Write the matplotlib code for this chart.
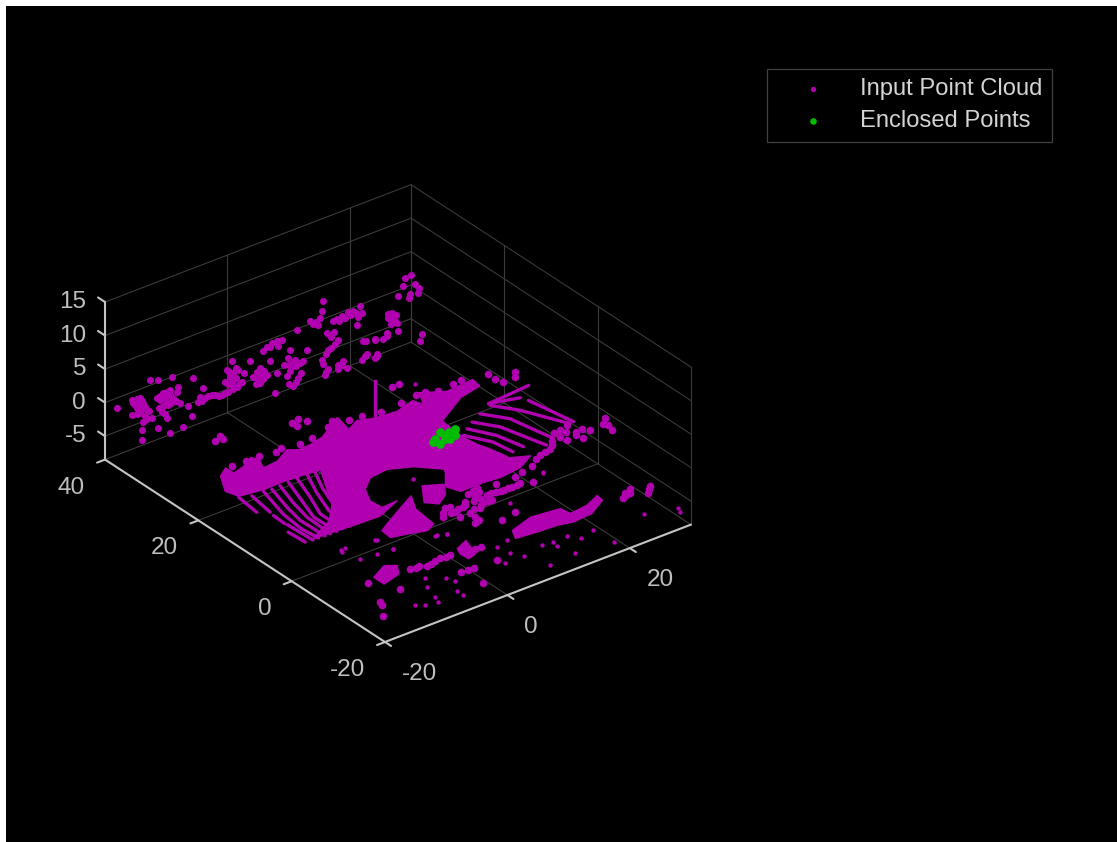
"""Lidar point cloud with the points enclosed by a search box (dark theme)."""

import matplotlib
matplotlib.use("Agg")
import matplotlib.pyplot as plt
from matplotlib.patches import Rectangle
from mpl_toolkits.mplot3d import proj3d
from mpl_toolkits.mplot3d.art3d import Poly3DCollection

W, H = 1117, 842
MAGENTA = "#B000B0"
GREEN = "#00BC00"

X_LIM = (-20, 30)
Y_LIM = (-20, 40)
Z_LIM = (-8.5, 15)
X_TICKS = [-20, 0, 20]
Y_TICKS = [-20, 0, 20, 40]
Z_TICKS = [-5, 0, 5, 10, 15]
GROUND_Z = -2.0

# solid road surface around the sensor, outline runs round into the ego-vehicle hole
ROAD_X = [-17.6, -15.8, -15.7, -13.7, -11.5, -11.0, -11.9, -9.4, -6.6, -5.4, -3.4, -1.0, 3.7, 3.0,
          5.2, 7.3, 10.8, 14.1, 14.6, 16.0, 19.1, 23.6, 23.3, 19.5, 13.9, 13.5, 14.1, 14.8, 17.5,
          14.7, 11.0, 8.5, 4.7, 3.9, 6.1, 6.5, 3.8, 0.6, -2.4, -4.8, -6.1, -5.9, -3.3, -7.4, -11.1,
          -14.7, -18.1, -13.5, -10.6, -8.1, -6.3, -9.4, -12.5, -15.3, -18.9, -19.5]
ROAD_Y = [18.5, 19.8, 18.1, 18.7, 20.0, 18.8, 16.8, 17.1, 18.7, 17.8, 17.9, 18.5, 21.4, 18.0,
          19.2, 18.3, 17.9, 18.9, 17.2, 20.0, 18.1, 18.5, 16.6, 15.7, 12.3, 7.2, 2.9, -0.5, -1.9,
          -3.5, -4.0, -3.7, -3.7, -1.5, 1.4, 2.2, 5.1, 6.7, 6.3, 4.3, 1.5, -0.8, -0.6, -2.4, -2.3,
          -2.0, -1.8, 0.6, 3.8, 8.5, 11.9, 12.2, 12.4, 12.3, 12.9, 15.0]

# dense patches: below the hole, right of the hole, and the three big kerb clumps
PATCHES_X = [
    [-8.0, -4.0, -1.1, -2.7, -3.2, -4.9, -7.5, -9.8, -9.6],
    [1.6, 4.1, 2.7, 0.5, -0.8],
    [3.85, 7.84, 12.24, 12.5, 15.5, 18.1, 17.9, 14.7, 11.5, 9.3, 6.2, 2.9],
    [-17.8, -14.9, -13.5, -14.7, -17.8],
    [-4.7, -2.5, -3.6, -5.1, -5.2],
]
PATCHES_Y = [
    [-4.6, -2.3, -0.7, -3.8, -8.3, -9.2, -8.3, -7.7, -5.6],
    [0.5, -0.9, -3.1, -4.6, -3.1],
    [-15.9, -14.6, -15.2, -17.0, -16.6, -15.4, -16.8, -18.7, -19.0, -18.4, -18.2, -17.8],
    [-14.6, -13.0, -14.0, -15.9, -16.8],
    [-15.3, -14.3, -17.8, -18.3, -16.6],
]

# ring segments that still show as separate scan lines, one (x, y) list per segment
RINGS_X = [
    [-19.1, -19.6], [-17.5, -18.2], [-15.6, -17.2, -17.6, -17.3], [-14.4, -15.7, -16.4, -16.3],
    [-13.0, -14.3, -15.2, -15.4], [-11.6, -13.1, -14.5, -14.4], [-10.0, -11.7, -13.3, -13.4],
    [-8.2, -10.3, -11.9, -12.3], [-6.9, -9.1, -10.4, -11.2],
    [-19.5, -19.3], [-18.4, -18.5], [-18.4, -18.2],
    [21.3, 23.6, 26.6], [18.9, 21.2, 22.6], [16.8, 18.9, 20.8], [15.2, 17.2, 18.2],
    [13.8, 15.8, 16.3], [12.8, 14.1, 14.8], [26.0, 27.3], [21.4, 25.2, 28.4], [21.4, 25.6],
]
RINGS_Y = [
    [12.5, 8.0], [11.8, 7.0], [11.8, 5.4, 1.0, -2.2], [11.6, 6.6, 2.9, -2.3],
    [11.7, 7.2, 3.0, -2.3], [11.7, 6.9, 2.5, -2.3], [12.1, 6.9, 2.7, -2.2],
    [12.4, 7.4, 2.7, -2.2], [12.5, 7.6, 3.7, -2.1],
    [1.4, -2.0], [6.0, 3.4], [3.0, -2.2],
    [11.6, 8.2, 1.5], [10.7, 7.3, -0.3], [9.6, 6.4, -1.1], [8.6, 4.9, 0.4],
    [7.5, 3.8, 0.2], [6.6, 2.9, -0.5], [9.6, 1.6], [12.1, 12.4, 12.7], [12.1, 10.8],
]

# lamp post next to the road
POLE_X = [6.2, 6.2]
POLE_Y = [16.5, 16.5]
POLE_Z = [-2.0, 4.7]

# buildings and trees along the far side, all about the same depth
WALL_Y = 36.0
WALL_X = [-18.68, -17.32, -18.14, -16.77, -16.23, -17.32, -18.68, -16.77, -15.41, -17.05, -14.6,
          -13.51, -12.42, -11.06, -11.87, -10.78, -12.69, -13.78, -12.96, -14.32, -12.16, -15.69,
          -14.32, -12.42, -17.05, -10.24, -21.13, -8.88, -9.42,
          -7.79, -6.7, -5.61, -6.97, -8.6, -3.97, -2.89, -1.52, -0.71, -2.07, -3.16, -2.34, -1.25,
          -3.43, 0.66, 1.2, 2.29, 3.38, 2.29, 2.83, 4.2, 5.83, 8.28, 7.19, 8.01, 9.37, 9.92, 8.55,
          7.74, 4.74, 6.65, 5.01, 3.92, 7.46, 2.29, -2.34,
          10.46, 11.82, 12.37, 12.64, 14.27, 15.63, 17.54, 18.63, 18.09, 13.18, 15.09, 13.46, 12.37,
          15.09, 15.91, 12.91, 19.18, 18.9, 21.35, 21.08, 22.99, 23.26, 16.45, 18.9,
          24.02, 23.2, 24.67, 24.83, 21.08, 22.38, 23.04, 21.4, 28.75, 28.43, 24.83, 25.65, 25.98,
          26.96, 27.61, 28.26, 26.79, 26.63, 28.1,
          -17.9, -17.7, -17.4, -18.4, -17.0, -16.5, -17.0, -17.8, -17.9, -16.6, -16.2, -15.9,
          -14.0, -13.0, -12.4, -13.2, -12.0, -12.3, -13.0, -13.6, -11.4, -11.3, -13.3, -14.3, -14.0,
          -7.2, -6.2, -7.5, -5.0, -4.4, -3.4, -2.2, -1.1, -3.0, -2.6, -1.6, -2.8, -1.6, -0.3,
          1.9, 2.8, 3.0, 1.7, 2.6, 1.8, 7.0, 8.2, 7.7, 8.8, 6.2, 7.2, 6.9, 3.4, 3.9, 5.0, 5.2,
          7.0, 8.1, 9.0, 10.9, 11.4, 12.0, 14.8, 15.2, 16.1, 16.6, 17.1, 18.0, 18.3, 13.8, 13.0,
          14.3, 13.9, 14.6, 15.7, 15.0, 13.4, 12.5, 13.1, 19.6, 19.4, 19.8, 21.0,
          23.5, 23.9, 24.4, 23.6, 24.5]
WALL_Z = [1.74, 1.51, 0.8, 0.58, -0.61, -0.73, -0.5, -2.16, -2.14, -3.31, 0.56,
          0.93, 1.05, 1.07, -0.4, -1.52, -1.1, -1.72, -2.99, 3.2, 2.94, 3.68,
          -4.02, -5.42, -4.81, -5.3, 1.45, -4.02, -2.34,
          -2.31, -2.2, -2.08, -0.51, 1.55, -2.65, -2.53, -2.26, -1.8, -0.08, 0.79, 1.76, 0.13,
          -0.85, 0.71, -1.72, -3.1, -2.23, -0.86, 1.44, 2.21, 2.13, 2.78, 0.17, -1.61, -2.33, -0.78,
          -4.54, -5.49, -5.45, -3.62, -2.55, -0.43, -2.42, -2.1, -1.48,
          3.26, 2.28, 4.08, 5.49, 1.93, 2.2, 2.27, 2.64, 0.09, 0.57, -1.1, -2.02, -3.13,
          -4.83, -4.62, -5.56, -2.77, -5.41, -5.77, -3.19, -3.36, -0.71, -5.81, 1.56,
          -1.03, -0.14, -2.0, -3.25, -3.13, -3.59, -2.93, -5.49, -5.07, -6.0, 1.98, 3.18, 4.26,
          4.36, 2.8, 1.97, 1.59, 1.05, 1.27,
          1.6, 1.1, 0.8, 1.2, 1.0, 0.0, -0.1, 0.2, -0.6, -1.4, -1.9, -0.9,
          0.7, 1.0, 0.3, 0.2, -0.4, -1.0, -0.6, -1.0, -1.0, 0.3, -2.2, -1.0, 0.1,
          -2.4, -2.1, -1.8, -2.3, -2.6, -2.6, -2.4, -2.0, -1.4, -0.5, -0.9, 0.3, 0.5, -0.6,
          -2.4, -2.7, -1.5, -3.0, -1.8, -1.3, -2.1, -2.6, -2.0, -2.4, -1.8, -3.0, -1.0, 1.9, 1.7, 2.2, 1.4,
          -4.8, -5.0, -3.9, 2.7, 2.9, 3.2, 2.1, 1.6, 1.8, 2.5, 1.9, 1.9, 1.1, -1.9, -2.5,
          0.4, -0.3, -1.6, -5.1, -5.4, -4.9, -3.8, -5.2, -2.9, -5.1, -4.9, -5.9,
          -0.8, -0.2, -1.6, -1.8, -0.7]

# clumps on the ground plane
CLUMP_X = [-1.84, -0.63, -0.03, -1.86, -11.3, -12.6, -11.5, 14.1, 15.3, 26.1, 26.0, 26.3, 29.1, 28.3,
           26.0, 26.0, 25.7, 27.7, 23.5, 23.7, 20.6, 18.6, 31.0, 30.3, 29.9, 30.0,
           5.1, 6.8, 6.8, 8.2, 9.3, 10.7, 12.0, 5.1, 5.3, 6.5, 2.5, 0.9, -1.1, 2.2, 2.0, 1.1, 3.5,
           7.1, 4.4, 13.7, 1.1, 4.0, 0.6,
           21.3, 22.4, 20.4, 25.0, 23.7,
           -15.8, -12.7, -10.6, -8.0, -6.5, -6.1, -7.9, -7.5,
           -17.0, -21.0, -21.4, -22.9, -19.2, -2.5, -1.9,
           21.0, 21.9, 24.4,
           -12.0, -11.4, -9.8, -9.0, -7.2, -7.0, -2.9,
           5.8, 6.4, 7.5, 8.9, 10.0, 11.4, 5.6, 5.9, 4.6, 3.0, 1.6, 0.2, -0.5, 2.1, 4.6, 3.2, 0.4,
           -14.9, -12.6, -10.4, -8.1, -7.0, -4.4, -2.2, 1.2, 2.5, 4.4, 6.4, 9.0, 12.5, 15.2, 16.8,
           18.2, 20.8, 22.3,
           6.0, 9.5, 12.5, 14.0, 16.0, 17.5,
           24.6, 24.8, 22.0, 23.4, 25.4, 26.9, 21.4, 19.6]
CLUMP_Y = [23.8, 24.0, 23.0, 22.7, 26.7, 26.1, 25.8, 23.3, 23.4, 18.3, 16.7, 15.4, 16.5, 15.5,
           1.4, -0.7, -2.6, -1.4, -0.4, -1.7, -2.1, -2.6, -0.2, -1.9, -3.1, -1.1,
           -4.9, -4.5, -6.7, -6.7, -7.0, -6.9, -6.9, -8.1, -6.1, -8.1, -7.3, -7.6, -7.7, -9.2, -11.2,
           -11.6, -6.4, -12.4, -13.0, -7.6, -6.2, -8.9, -9.1,
           -17.2, -16.9, -18.1, -17.8, -19.1,
           -15.6, -15.8, -16.6, -16.1, -16.2, -20.8, -20.5, -24.6,
           -19.3, -20.3, -21.1, -23.4, -15.4, -21.0, -16.9,
           -17.8, -17.6, -18.4,
           -16.2, -16.1, -16.5, -16.2, -16.3, -20.7, -16.8,
           -5.0, -5.5, -6.6, -7.0, -7.0, -7.0, -7.0, -8.1, -6.9, -7.0, -7.4, -7.6, -6.8, -10.2, -8.3,
           -8.6, -6.0,
           19.5, 19.4, 19.5, 18.9, 19.4, 18.6, 18.9, 20.0, 20.9, 19.8, 19.6, 18.9, 19.2, 19.6, 19.6,
           18.7, 18.9, 19.2,
           -4.8, -5.0, -5.2, -4.8, -4.2, -3.2,
           1.0, 0.0, -0.8, 0.8, -1.4, -0.6, -1.5, -2.3]

# isolated returns
SPECK_X = [1.8, 16.3, 17.0, 19.9, 24.4, 24.0, -12.7, -10.5, -11.5, -11.4, -13.8, -14.6, -15.0, -16.9,
           -17.9, -10.1, 1.8, 7.1, 4.5, 0.9, 0.0, -0.4, -2.0, 6.3, 5.9, 4.6, 2.3, 6.7, 8.5, 9.7, 12.3,
           12.4, -5.0, -3.5, -11.8, -11.4, -16.3, -13.9, 8.0, 16.1, 13.7, -16.9, -16.2, -17.1, -11.7,
           -4.7, -3.5, -11.3]
SPECK_Y = [2.5, -6.3, 22.1, -23.2, -24.5, -25.6, -19.0, -20.7, -24.2, -25.5, -20.9, -23.6, -24.9,
           -24.5, -23.7, -22.0, -17.5, -12.6, -13.1, -22.3, -20.6, -18.3, -22.1, -21.6, -22.9, -21.3,
           -26.1, -25.7, -21.6, -23.0, -22.3, -26.5, -11.1, -11.6, -7.2, -10.5, -9.8, -10.2, -10.1,
           -6.5, -7.6, -6.6, -6.5, -6.9, -7.3, -11.0, -11.6, -10.3]

# points inside the search box
ENCLOSED_X = [9.6, 10.1, 11.4, 11.9, 12.8, 14.0, 12.9, 11.9, 10.4, 11.9]
ENCLOSED_Y = [8.5, 7.6, 8.3, 10.1, 9.4, 9.6, 8.2, 7.9, 9.1, 9.0]

LEGEND_LABELS = ["Input Point Cloud", "Enclosed Points"]

plt.rcParams["font.family"] = ["Liberation Sans", "DejaVu Sans"]

fig = plt.figure(figsize=(W / 100, H / 100), dpi=100, facecolor="white")
fig.add_artist(Rectangle((6 / W, 0), 1 - 6 / W, 1 - 6 / H, transform=fig.transFigure,
                         facecolor="black", edgecolor="none", zorder=-1))

ax = fig.add_axes([0, 0, 1, 1], projection="3d", proj_type="ortho")
ax.patch.set_alpha(0)
ax.computed_zorder = False
ax.set_xlim(*X_LIM, view_margin=0)
ax.set_ylim(*Y_LIM, view_margin=0)
ax.set_zlim(*Z_LIM, view_margin=0)
ax.view_init(elev=30, azim=-127.5)
ax.set_box_aspect((385.7, 459.9, 181.9))
ax.set_axis_off()


def to_view(x, y, z):
    u, v, _ = proj3d.proj_transform(x, y, z, ax.get_proj())
    return u, v


# move the box so its front corner and width land where they do in the picture
ax.apply_aspect()
bb = ax.get_position()
pa = ax.transData.transform(to_view(X_LIM[0], Y_LIM[0], Z_LIM[0]))
pb = ax.transData.transform(to_view(X_LIM[1], Y_LIM[0], Z_LIM[0]))
scale = 306 / (pb[0] - pa[0])
side = bb.width * W * scale
left = 385 - (pa[0] - bb.x0 * W) * scale
bottom = (H - 642) - (pa[1] - bb.y0 * H) * scale
ax.set_position([left / W, bottom / H, side / W, side / H])

# ------------------------------------------------------------------
# Grid and axes
# ------------------------------------------------------------------
GRID = dict(color="#3A3A3A", lw=0.8, zorder=1)
AXIS = dict(color="#C4C4C4", lw=1.5, zorder=2, solid_capstyle="round")
x0, x1 = X_LIM
y0, y1 = Y_LIM
z0, z1 = Z_LIM

for xt in X_TICKS + [x1]:
    ax.plot([xt, xt], [y0, y1], [z0, z0], **GRID)
    ax.plot([xt, xt], [y1, y1], [z0, z1], **GRID)
for yt in Y_TICKS:
    ax.plot([x0, x1], [yt, yt], [z0, z0], **GRID)
    ax.plot([x1, x1], [yt, yt], [z0, z1], **GRID)
for zt in Z_TICKS:
    ax.plot([x0, x1], [y1, y1], [zt, zt], **GRID)
    ax.plot([x1, x1], [y0, y1], [zt, zt], **GRID)

ax.plot([x0, x1], [y0, y0], [z0, z0], **AXIS)
ax.plot([x0, x0], [y0, y1], [z0, z0], **AXIS)
ax.plot([x0, x0], [y1, y1], [z0, z1], **AXIS)
for xt in X_TICKS:
    ax.plot([xt, xt], [y0, y0 - 1.3], [z0, z0], **AXIS)
for yt in Y_TICKS:
    ax.plot([x0, x0 - 1.3], [yt, yt], [z0, z0], **AXIS)
for zt in Z_TICKS:
    ax.plot([x0, x0], [y1, y1 + 1.5], [zt, zt], **AXIS)

LABEL = dict(color="#BFBFBF", fontsize=17.5, zorder=6, textcoords="offset pixels",
             annotation_clip=False, va="center")
for xt in X_TICKS:
    ax.annotate(str(xt), to_view(xt, y0, z0), xytext=(17, -32), ha="left", **LABEL)
for yt in Y_TICKS:
    ax.annotate(str(yt), to_view(x0, yt, z0), xytext=(-20, -28), ha="right", **LABEL)
for zt in Z_TICKS:
    ax.annotate(str(zt), to_view(x0, y1, zt), xytext=(-19, 0), ha="right", **LABEL)

# ------------------------------------------------------------------
# Point cloud
# ------------------------------------------------------------------
for px_, py_ in [(ROAD_X, ROAD_Y)] + list(zip(PATCHES_X, PATCHES_Y)):
    verts = [list(zip(px_, py_, [GROUND_Z] * len(px_)))]
    ax.add_collection3d(Poly3DCollection(verts, facecolor=MAGENTA, edgecolor=MAGENTA,
                                         linewidth=1.0, zorder=3))

for rx, ry in zip(RINGS_X, RINGS_Y):
    ax.plot(rx, ry, [GROUND_Z] * len(rx), color=MAGENTA, lw=2.4, zorder=3,
            solid_capstyle="round")
ax.plot(POLE_X, POLE_Y, POLE_Z, color=MAGENTA, lw=2.4, zorder=3)

h_cloud = ax.scatter(WALL_X, [WALL_Y] * len(WALL_X), WALL_Z, s=26, c=MAGENTA, marker="o",
                     linewidths=0, depthshade=False, zorder=3)
ax.scatter(CLUMP_X, CLUMP_Y, [GROUND_Z] * len(CLUMP_X), s=30, c=MAGENTA, linewidths=0,
           depthshade=False, zorder=3)
ax.scatter(SPECK_X, SPECK_Y, [GROUND_Z] * len(SPECK_X), s=10, c=MAGENTA, linewidths=0,
           depthshade=False, zorder=3)
h_box = ax.scatter(ENCLOSED_X, ENCLOSED_Y, [GROUND_Z] * len(ENCLOSED_X), s=40, c=GREEN,
                   linewidths=0, depthshade=False, zorder=4)

leg = ax.legend([h_cloud, h_box], LEGEND_LABELS, loc="upper left",
                bbox_to_anchor=(767 / W, 1 - 69 / H), bbox_transform=fig.transFigure,
                fontsize=17.1, labelcolor="#D4D4D4", facecolor="black", edgecolor="#404040",
                fancybox=False, framealpha=1, borderaxespad=0, borderpad=0.4,
                handlelength=3.1, handletextpad=0.42, labelspacing=0.4, markerscale=0.75,
                scatterpoints=1)
leg.get_frame().set_linewidth(0.9)

fig.savefig("out.png", dpi=100, facecolor=fig.get_facecolor())
